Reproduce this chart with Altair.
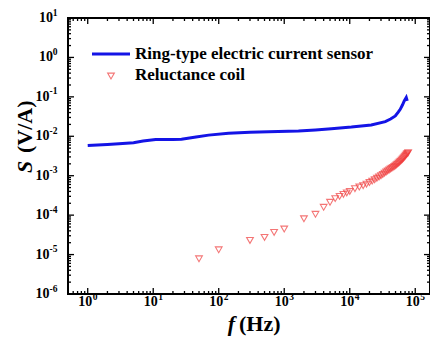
import altair as alt
import pandas as pd

# Ring-type electric current sensor (blue line)
blue_f = [1, 2, 3, 5, 7, 10.9, 20, 27, 45, 70, 141, 300, 574, 1650, 3000, 5240, 10600,
          21300, 34900, 42000, 49600, 55000, 59000, 64000, 67900, 72900, 75500]
blue_s = [5.8e-3, 6.2e-3, 6.5e-3, 6.9e-3, 7.6e-3, 8.3e-3, 8.3e-3, 8.4e-3, 9.6e-3, 1.07e-2,
          1.19e-2, 1.26e-2, 1.31e-2, 1.36e-2, 1.45e-2, 1.56e-2, 1.71e-2,
          1.93e-2, 2.35e-2, 2.75e-2, 3.27e-2, 4.1e-2, 4.83e-2, 6.3e-2, 7.87e-2, 9.6e-2, 7.9e-2]

# Reluctance coil (red triangles)
red_f = [50, 100, 300, 500, 700, 1000, 2000, 3000, 4000, 5000, 6000, 7000, 8000, 9000,
         10000, 12000, 14000, 16000, 18000, 20000, 22000, 24000, 26000, 28000, 30000,
         32000, 34000, 36000, 38000, 40000, 42000, 44000, 46000, 48000, 50000, 52000,
         54000, 56000, 58000, 60000, 62000, 64000, 66000, 68000, 70000, 72000, 74000,
         76000, 78000]
red_s = [7.8e-6, 1.32e-5, 2.28e-5, 2.72e-5, 3.65e-5, 4.45e-5, 8.1e-5, 1.05e-4, 1.58e-4,
         2.12e-4, 2.63e-4, 3.0e-4, 3.35e-4, 3.67e-4,
         4.0e-4, 4.7e-4, 5.15e-4, 5.6e-4, 6.1e-4, 6.7e-4, 7.3e-4, 7.9e-4, 8.6e-4, 9.3e-4,
         1.0e-3, 1.07e-3, 1.16e-3, 1.24e-3, 1.32e-3, 1.40e-3, 1.48e-3, 1.55e-3, 1.63e-3,
         1.71e-3, 1.80e-3, 1.90e-3, 2.0e-3, 2.1e-3, 2.22e-3, 2.35e-3, 2.48e-3, 2.62e-3,
         2.78e-3, 2.95e-3, 3.12e-3, 3.3e-3, 3.5e-3, 3.68e-3, 3.83e-3]

x_exps = [0, 1, 2, 3, 4, 5]
y_exps = [1, 0, -1, -2, -3, -4, -5, -6]
x_minor = [0.6, 0.7, 0.8, 0.9] + [m * 10 ** k for k in range(0, 5) for m in range(2, 10)]
y_minor = [m * 10.0 ** k for k in range(-6, 1) for m in range(2, 10)]

series_names = ["Ring-type electric current sensor", "Reluctance coil"]

W, H = 362, 276
FONT = "Liberation Serif"
BLUE = "#1414e6"
RED = "#f03c3c"

xscale = alt.Scale(type="log", domain=[0.5, 1.68e5])
yscale = alt.Scale(type="log", domain=[1e-6, 10])

blue_df = pd.DataFrame({"f": blue_f, "s": blue_s})
red_df = pd.DataFrame({"f": red_f, "s": red_s})
xmaj_df = pd.DataFrame({"v": [10.0 ** e for e in x_exps], "e": [str(e) for e in x_exps]})
ymaj_df = pd.DataFrame({"v": [10.0 ** e for e in y_exps], "e": [str(e) for e in y_exps],
                        "neg": [e < 0 for e in y_exps]})
xmin_df = pd.DataFrame({"v": x_minor})
ymin_df = pd.DataFrame({"v": y_minor})
one = pd.DataFrame({"a": [0]})

X = lambda: alt.X("v:Q", scale=xscale, axis=None)
Y = lambda: alt.Y("v:Q", scale=yscale, axis=None)

line = alt.Chart(blue_df).mark_line(color=BLUE, strokeWidth=3).encode(
    x=alt.X("f:Q", scale=xscale, axis=None), y=alt.Y("s:Q", scale=yscale, axis=None))
pts = alt.Chart(red_df).mark_point(shape="triangle-down", filled=False, color=RED,
                                   size=45, strokeWidth=1.1).encode(
    x=alt.X("f:Q", scale=xscale, axis=None), y=alt.Y("s:Q", scale=yscale, axis=None))

layers = [line, pts]

# ticks (inward, mirrored)
rule = dict(color="black", strokeWidth=1.3)
for df, L in [(xmaj_df, 6), (xmin_df, 3)]:
    layers.append(alt.Chart(df).mark_rule(**rule).encode(x=X(), y=alt.value(H), y2=alt.value(H - L)))
    layers.append(alt.Chart(df).mark_rule(**rule).encode(x=X(), y=alt.value(0), y2=alt.value(L)))
for df, L in [(ymaj_df, 6), (ymin_df, 3)]:
    layers.append(alt.Chart(df).mark_rule(**rule).encode(y=Y(), x=alt.value(0), x2=alt.value(L)))
    layers.append(alt.Chart(df).mark_rule(**rule).encode(y=Y(), x=alt.value(W), x2=alt.value(W - L)))

# frame
layers.append(alt.Chart(one).mark_rect(fill=None, stroke="black", strokeWidth=2).encode(
    x=alt.value(0), x2=alt.value(W), y=alt.value(0), y2=alt.value(H)))

# tick labels
base = dict(font=FONT, fontWeight="bold", color="black")
layers.append(alt.Chart(xmaj_df).mark_text(text="10", align="right", baseline="middle", dx=4.5,
                                           fontSize=14, **base).encode(x=X(), y=alt.value(284)))
layers.append(alt.Chart(xmaj_df).mark_text(align="left", baseline="middle", dx=5, dy=-5.5,
                                           fontSize=9.5, **base).encode(x=X(), y=alt.value(284), text="e:N"))
layers.append(alt.Chart(ymaj_df).transform_filter("!datum.neg").mark_text(
    text="10", align="right", baseline="middle", fontSize=14, **base).encode(y=Y(), x=alt.value(-15)))
layers.append(alt.Chart(ymaj_df).transform_filter("datum.neg").mark_text(
    text="10", align="right", baseline="middle", fontSize=14, **base).encode(y=Y(), x=alt.value(-18.5)))
layers.append(alt.Chart(ymaj_df).mark_text(align="right", baseline="middle", dy=-5.5,
                                           fontSize=9.5, **base).encode(y=Y(), x=alt.value(-10.5), text="e:N"))

# axis titles
layers.append(alt.Chart(one).mark_text(text="f", align="right", baseline="alphabetic", fontSize=22,
                                       fontStyle="italic", **base).encode(x=alt.value(167), y=alt.value(313)))
layers.append(alt.Chart(one).mark_text(text="(Hz)", align="left", baseline="alphabetic", fontSize=22,
                                       **base).encode(x=alt.value(171), y=alt.value(313)))
layers.append(alt.Chart(one).mark_text(text="S", align="left", baseline="middle", angle=270, fontSize=22,
                                       fontStyle="italic", **base).encode(x=alt.value(-43), y=alt.value(155)))
layers.append(alt.Chart(one).mark_text(text="(V/A)", align="left", baseline="middle", angle=270, fontSize=22,
                                       **base).encode(x=alt.value(-43), y=alt.value(135)))

# legend
layers.append(alt.Chart(one).mark_rule(color=BLUE, strokeWidth=3).encode(
    x=alt.value(24), x2=alt.value(62), y=alt.value(36)))
layers.append(alt.Chart(one).mark_point(shape="triangle-down", filled=False, color=RED, size=45,
                                        strokeWidth=1.1).encode(x=alt.value(43), y=alt.value(58)))
layers.append(alt.Chart(one).mark_text(text=series_names[0], align="left", baseline="middle",
                                       fontSize=17, **base).encode(x=alt.value(67), y=alt.value(36)))
layers.append(alt.Chart(one).mark_text(text=series_names[1], align="left", baseline="middle",
                                       fontSize=17, **base).encode(x=alt.value(67), y=alt.value(57)))

chart = alt.layer(*layers).properties(
    width=W, height=H,
    autosize=alt.AutoSizeParams(type="none"),
    padding={"left": 60, "top": 10, "right": 0, "bottom": 42},
).configure_view(stroke=None)

chart.save("out.html", embed_options={"renderer": "svg", "actions": False})
